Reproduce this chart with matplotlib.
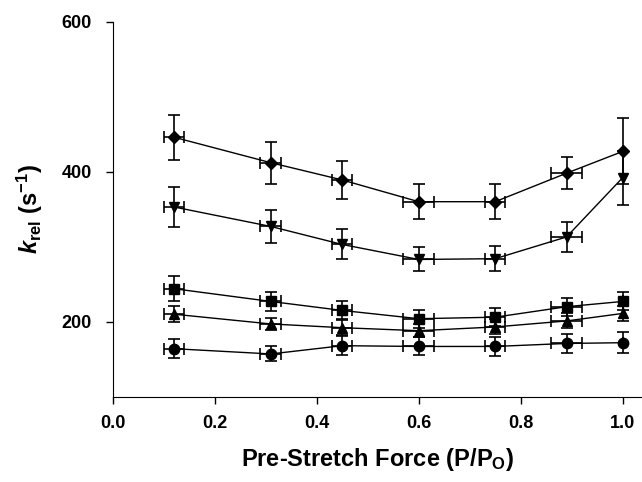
import numpy as np
from matplotlib import pyplot as plt

plt.rcParams['font.family'] = 'Liberation Sans'
plt.rcParams['font.weight'] = 'bold'
plt.rcParams['mathtext.fontset'] = 'custom'
plt.rcParams['mathtext.rm'] = 'Liberation Sans:bold'
plt.rcParams['mathtext.it'] = 'Liberation Sans:italic:bold'
plt.rcParams['mathtext.bf'] = 'Liberation Sans:bold'

force = [0.12, 0.31, 0.45, 0.60, 0.75, 0.89, 1.00]
force_err = [0.02, 0.021, 0.02, 0.03, 0.02, 0.03, 0.0]

diamond = [446, 412, 389, 360, 360, 398, 427]
diamond_err = [30, 28, 25, 23, 23, 21, 44]

tri_down = [353, 327, 303, 283, 284, 313, 392]
tri_down_err = [27, 22, 20, 16, 17, 20, 36]

square = [244, 227, 215, 204, 206, 220, 227]
square_err = [17, 13, 12, 12, 12, 12, 12]

tri_up = [210, 197, 192, 188, 193, 201, 211]
tri_up_err = [11, 8, 10, 9, 10, 10, 10]

circle = [164, 157, 168, 167, 167, 171, 172]
circle_err = [13, 10, 13, 12, 13, 13, 14]

series = [
    (diamond, diamond_err, 'D', 6.5),
    (tri_down, tri_down_err, 'v', 7.5),
    (square, square_err, 's', 7),
    (tri_up, tri_up_err, '^', 7.5),
    (circle, circle_err, 'o', 7.5),
]

fig = plt.figure(figsize=(6.42, 4.82), dpi=100)
ax = fig.add_axes([112.7 / 642, 85.3 / 482, 529.3 / 642, 375 / 482])

for vals, errs, mk, ms in series:
    ax.errorbar(force, vals, yerr=errs, xerr=force_err, color='black',
                marker=mk, markersize=ms, linewidth=1, elinewidth=1.2,
                capsize=4.5, capthick=1.2)

ax.set_xlim(0, 1.038)
ax.set_ylim(100, 600)
ax.set_xticks([0.0, 0.2, 0.4, 0.6, 0.8, 1.0])
ax.set_xticklabels(['0.0', '0.2', '0.4', '0.6', '0.8', '1.0'])
ax.set_yticks([200, 400, 600])

ax.spines['top'].set_visible(False)
ax.spines['right'].set_visible(False)
ax.tick_params(direction='out', length=5, width=1, labelsize=13)
ax.tick_params(axis='x', pad=8)
ax.tick_params(axis='y', pad=10)
for lbl in ax.get_xticklabels() + ax.get_yticklabels():
    lbl.set_fontweight('bold')

ax.set_xlabel(r'Pre-Stretch Force (P/P$_\mathrm{O}$)', fontsize=17,
              fontweight='bold', labelpad=10)
ax.set_ylabel(r'$k_{\mathrm{rel}}$ (s$^{\mathrm{-1}}$)', fontsize=17,
              fontweight='bold', labelpad=12)

fig.savefig('out.png', dpi=100)
